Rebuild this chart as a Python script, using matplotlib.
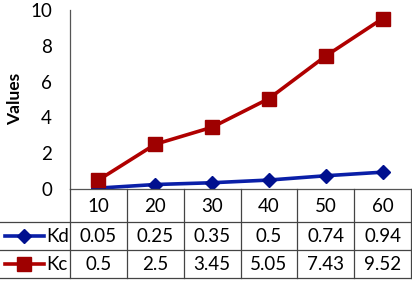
import matplotlib.pyplot as plt
import numpy as np

categories = ['10', '20', '30', '40', '50', '60']
kd = [0.05, 0.25, 0.35, 0.5, 0.74, 0.94]
kc = [0.5, 2.5, 3.45, 5.05, 7.43, 9.52]
kd_labels = ['0.05', '0.25', '0.35', '0.5', '0.74', '0.94']
kc_labels = ['0.5', '2.5', '3.45', '5.05', '7.43', '9.52']

W, H = 412, 282
fig = plt.figure(figsize=(W / 100, H / 100), dpi=100)
plt.rcParams['font.family'] = ['Lato', 'DejaVu Sans']
fs = 13.5

left_px, right_px, top_px, axis_px = 70, 411, 10, 189
ax = fig.add_axes([left_px / W, 1 - axis_px / H, (right_px - left_px) / W, (axis_px - top_px) / H])

blue = '#0a1fa8'
red = '#b00000'
x = np.arange(len(categories))
ax.plot(x, kd, color=blue, lw=2.6, marker='D', ms=7, mfc='#00108f', mec='#00108f')
ax.plot(x, kc, color=red, lw=2.6, marker='s', ms=9.5, mfc='#9e0000', mec='#9e0000')
ax.set_xlim(-0.5, len(categories) - 0.5)
ax.set_ylim(0, 10)
ax.set_yticks([0, 2, 4, 6, 8, 10])
ax.set_xticks([])
ax.tick_params(axis='y', length=0, pad=13, labelsize=fs)
for s in ['top', 'right']:
    ax.spines[s].set_visible(False)
ax.spines['left'].set_color('#555555')
ax.spines['bottom'].set_color('#555555')
ax.spines['left'].set_linewidth(0.9)
ax.spines['bottom'].set_linewidth(0.9)
fig.text(15 / W, 1 - 99 / H, 'Values', rotation=90, ha='center', va='center',
         fontsize=12.5, fontweight='bold')

# data table below the axis
table_bottom = 278
tab = fig.add_axes([0, 1 - table_bottom / H, 1, (table_bottom - axis_px) / H])
unit = (right_px - left_px) / len(categories)
x0 = -0.5 - left_px / unit
tab.set_xlim(x0, x0 + W / unit)
tab.set_ylim(table_bottom, axis_px)
tab.axis('off')

rows = [axis_px, 222, 250, 278]
gc = '#444444'
for yl in rows[1:]:
    tab.plot([x0, len(categories) - 0.5], [yl, yl], color=gc, lw=0.9, clip_on=False)
for b in np.arange(len(categories) + 1) - 0.5:
    tab.plot([b, b], [axis_px, table_bottom], color=gc, lw=0.9, clip_on=False)

for i, c in enumerate(categories):
    tab.text(i, (rows[0] + rows[1]) / 2 + 1, c, ha='center', va='center', fontsize=fs)
    tab.text(i, (rows[1] + rows[2]) / 2, kd_labels[i], ha='center', va='center', fontsize=fs)
    tab.text(i, (rows[2] + rows[3]) / 2, kc_labels[i], ha='center', va='center', fontsize=fs)

lx = [x0 + 5 / unit, x0 + 44 / unit]
ym = (rows[1] + rows[2]) / 2
tab.plot(lx, [ym, ym], color=blue, lw=2.6)
tab.plot([np.mean(lx)], [ym], marker='D', ms=7, color='#00108f')
tab.text(x0 + 46 / unit, ym, 'Kd', ha='left', va='center', fontsize=fs)
ym = (rows[2] + rows[3]) / 2
tab.plot(lx, [ym, ym], color=red, lw=2.6)
tab.plot([np.mean(lx)], [ym], marker='s', ms=9.5, color='#9e0000')
tab.text(x0 + 46 / unit, ym, 'Kc', ha='left', va='center', fontsize=fs)

fig.savefig('out.png', dpi=100)
